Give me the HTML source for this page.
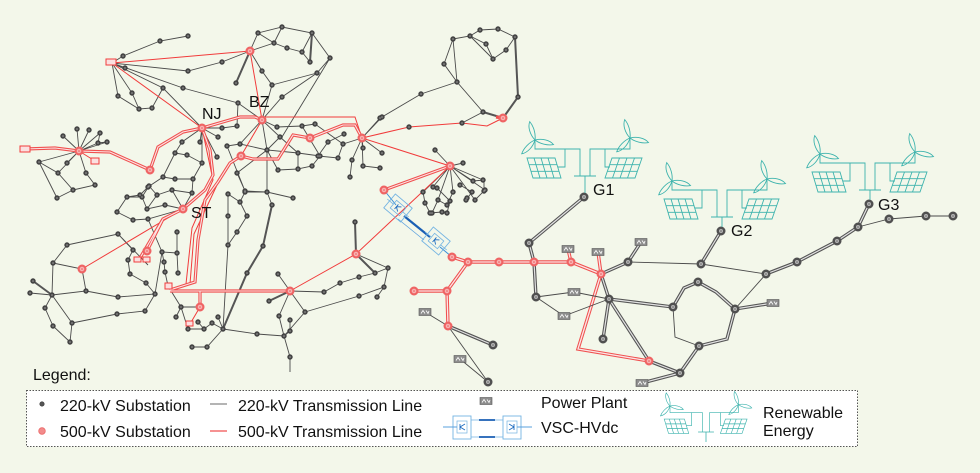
<!DOCTYPE html>
<html><head><meta charset="utf-8"><style>
html,body{margin:0;padding:0;background:#f3f7ea;}
svg{display:block;}
text{font-family:"Liberation Sans",Arial,sans-serif;fill:#111;}
</style></head><body>
<svg width="980" height="473" viewBox="0 0 980 473" xmlns="http://www.w3.org/2000/svg">
<defs>
<g id="blade"><path d="M0,0 C-4,-6 -5,-14 -2,-19 C1,-14 2,-6 0,0 Z"/></g>
<g id="wind">
<use href="#blade" transform="rotate(-10)"/>
<use href="#blade" transform="rotate(110)"/>
<use href="#blade" transform="rotate(230)"/>
</g>
<g id="ren" stroke="#3db3ad" stroke-width="0.9" fill="none">
<path d="M-11,0H11M-5,0V-27H-20V-9H-27M-20,-27H-50V-36M5,0V-27H20V-9H25M20,-27H45V-38"/>
<path d="M-58,-18L-30,-18L-24,2L-52,2Z M-51,-18L-45,2 M-44,-18L-38,2 M-37,-18L-31,2 M-56,-11.3L-28,-11.3 M-54,-4.7L-26,-4.7"/>
<path d="M27,-18L57,-18L50,2L20,2Z M34.5,-18L27.5,2 M42,-18L35,2 M49.5,-18L42.5,2 M24.7,-11.3L54.7,-11.3 M22.3,-4.7L52.3,-4.7"/>
<use href="#wind" transform="translate(-50,-36)"/>
<use href="#wind" transform="translate(45,-38)"/>
</g>
<g id="pp"><rect x="-6" y="-3.5" width="12" height="7" fill="#8d8d8d" stroke="#555" stroke-width="0.6"/><path d="M-4,1.5 L-2,-1.5 L0,1.5 M1,-1.5 L3,1.5 L4,-1" stroke="#fff" stroke-width="0.8" fill="none"/></g>
<g id="conv" fill="none">
<rect x="-11" y="-9" width="22" height="18" stroke="#74b4e2" stroke-width="0.9"/>
<rect x="-6" y="-5" width="12" height="10" stroke="#74b4e2" stroke-width="0.8"/>
<path d="M-14,0H-6M6,0H14" stroke="#74b4e2" stroke-width="0.8"/>
<path d="M-2,-3V3M-2,0L2,-3M-2,0L2,3" stroke="#1e6cc0" stroke-width="0.9"/>
</g>
</defs>

<!-- ============ 220 kV lines left network ============ -->
<g fill="none" stroke="#4a4a4a" stroke-width="0.9">
<path d="M112,63L123,56L160,41L188,36 M112,63L125,68 M112,63L118,96L139,109L152,108L163,88 M112,63L132,93L139,109 M112,63L163,88L202,128 M112,63L183,88L238,103L262,120 M112,63L188,71L222,62L250,51"/>
<path d="M250,51L258,33L282,27L312,33L330,58L317,73L282,97L262,120 M258,33L274,43L287,48L302,52L310,62 M282,27L274,43 M302,52L312,33 M250,51L262,71L272,85L262,120 M250,51L274,43 M238,103L237,126L222,128L202,128 M262,120L277,127L302,126L315,124 M262,120L280,137L298,153L298,169L312,166L320,156L302,126 M262,120L267,150L298,153 M330,58L282,137 M317,73L272,85"/>
<path d="M202,128L182,142L175,153L187,155L202,163L193,179L175,179L163,177L148,187L140,195 M202,128L200,142 M202,128L217,157 M202,128L218,137 M202,128L202,163 M163,177L175,153 M193,179L192,193"/>
<path d="M240,144L227,146L245,191L267,192L267,150L240,144L262,120 M237,173L267,150 M245,191L237,173 M278,170L267,150 M278,170L298,169 M315,124L343,144L362,138 M362,138L380,118 M362,138L352,160L350,177 M362,138L363,166L380,168 M362,138L382,153 M362,138L363,148 M343,144L338,158L318,156L328,142L344,134 M362,138L382,117L421,94L457,82 M298,153L320,156 M280,137L267,150"/>
<path d="M79,151L77,129 M79,151L89,130 M79,151L63,136 M79,151L100,133 M79,151L98,143 M79,151L107,142 M79,151L39,162 M79,151L67,163 M79,151L86,173 M79,151L58,173 M98,143L107,142 M100,133L98,143 M39,162L58,173L73,190L57,198 M39,162L57,198 M86,173L95,185L73,190"/>
<path d="M127,197L142,197L149,186L157,195L172,190L192,193 M127,197L117,212L133,220L148,219L183,209 M142,197L147,209L165,205L183,209 M157,195L147,209 M140,195L127,197 M148,187L149,186 M183,209L192,193 M172,190L183,209"/>
<path d="M67,245L118,234L133,250 M67,245L53,263L52,295L45,308L53,326L70,342L72,323L52,295 M53,263L82,269L86,291L52,295 M30,293L52,295 M86,291L118,297L155,294L162,252 M72,323L117,314L145,311L155,294L146,283 M133,250L128,260L130,274L146,283 M177,232L177,253L178,273 M162,252L164,262L165,272L168,286 M148,219L162,252L177,253 M118,234L148,265"/>
<path d="M168,286L181,307L200,307 M181,307L176,317 M181,307L188,329L204,329L212,323L223,329 M218,317L223,329 M198,322L204,329 M223,329L207,347L192,347"/>
<path d="M228,194L228,245L223,329 M228,194L240,202L245,192L267,192L293,198 M267,192L272,205 M247,216L237,232L228,245 M240,202L247,216 M223,329L257,334L284,336L305,312L290,291 M284,336L279,316L290,291 M290,291L278,274 M290,320L290,331L284,336 M284,336L290,357L290,372 M290,291L324,292L340,283L359,277L375,273L388,268L384,287L377,297 M305,312L359,296L384,287 M388,268L356,254"/>
<path d="M453,39L470,36L480,30L498,29L515,37L506,50L493,59L486,44L470,36 M453,39L444,64L457,82L483,112L503,118 M453,39L457,82 M470,36L493,59 M483,112L462,123"/>
<path d="M450,166L435,150 M450,166L463,163 M450,166L473,181 M450,166L483,180 M450,166L485,190 M450,166L475,200 M450,166L453,192 M450,166L438,200 M450,166L423,192 M450,166L433,187 M423,192L425,203L430,213L442,212 M437,188L450,201L447,213 M460,185L472,192L466,200 M473,181L484,180L484,191L475,200 M453,192L447,205L438,200L432,213"/>
</g>
<g fill="none" stroke="#555" stroke-width="2">
<path d="M312,33L310,62 M236,83L250,51 M33,281L52,295 M272,205L263,246L247,273L223,329 M290,291L269,301 M356,254L355,222 M356,254L375,273 M515,37L518,97L503,118 M483,112L503,118"/>
</g>

<!-- ============ 500 kV lines ============ -->
<g fill="none" stroke="#f13b3b" stroke-width="1">
<path d="M112,63L250,51 M112,63L202,128 M250,51L262,120L241,156 M262,117L355,117L362,138 M362,138L450,166 M362,138L409,127L462,123L487,126L503,118 M183,209L82,269 M290,291L356,254L450,166 M200,307L190,324 M79,151L95,161 M202,128L213,180L192,228L186,284 M217,185L194,234L190,284"/>
</g>
<g fill="none" stroke="#f0504f" stroke-width="3.2">
<path id="rd1" d="M202,128L240,117L255,117L262,120 M241,156L253,159L278,159L293,135L310,138L343,125L355,125L362,138 M202,128L183,132L158,147L150,170 M25,149L55,148L79,151 M79,151L110,152L150,170 M241,156L230,163L218,182L205,200L198,240L195,282L170,290 M183,209L163,219L147,251 M163,219L140,258 M170,291L290,291 M200,291L200,307 M384,190L450,166 M183,209L205,190L213,175L210,150L202,128 M496,117L503,118"/>
</g>
<g fill="none" stroke="#fbe6e6" stroke-width="1.1">
<path d="M202,128L240,117L255,117L262,120 M241,156L253,159L278,159L293,135L310,138L343,125L355,125L362,138 M202,128L183,132L158,147L150,170 M25,149L55,148L79,151 M79,151L110,152L150,170 M241,156L230,163L218,182L205,200L198,240L195,282L170,290 M183,209L163,219L147,251 M163,219L140,258 M170,291L290,291 M200,291L200,307 M384,190L450,166 M183,209L205,190L213,175L210,150L202,128"/>
</g>

<!-- right side red double -->
<g fill="none" stroke="#f0504f" stroke-width="3.4">
<path d="M452,257L468,262L499,262L534,262L571,262L601,274 M414,291L447,291 M447,291L468,262 M447,291L448,326 M601,274L598,252 M601,274L578,349L649,361 M571,262L568,249"/>
</g>
<g fill="none" stroke="#fbe6e6" stroke-width="1.3">
<path d="M452,257L468,262L499,262L534,262L571,262L601,274 M414,291L447,291 M447,291L468,262 M447,291L448,326 M601,274L598,252 M601,274L578,349L649,361 M571,262L568,249"/>
</g>

<!-- right side gray lines -->
<g fill="none" stroke="#555" stroke-width="3.4">
<path d="M584,197L529,243L534,262L536,297 M601,274L609,299 M601,274L628,262L641,242 M701,264L721,231 M766,274L797,262L837,241L858,227L869,204 M609,299L673,307 M609,299L649,361 M609,299L603,339 M673,307L684,288L698,282L716,292L735,309L727,339L699,346 M649,361L680,373L699,346 M680,373L642,383 M448,326L493,345 M735,309L773,303"/>
</g>
<g fill="none" stroke="#e2e2e2" stroke-width="1.2">
<path d="M584,197L529,243L534,262L536,297 M601,274L609,299 M601,274L628,262L641,242 M701,264L721,231 M766,274L797,262L837,241L858,227L869,204 M609,299L673,307 M609,299L649,361 M609,299L603,339 M673,307L684,288L698,282L716,292L735,309L727,339L699,346 M649,361L680,373L699,346 M680,373L642,383 M448,326L493,345 M735,309L773,303"/>
</g>
<g fill="none" stroke="#4a4a4a" stroke-width="0.9">
<path d="M536,297L574,292L609,299 M536,297L564,316L609,299 M628,262L701,264L766,274 M766,274L735,309 M858,227L889,219L926,216L953,216 M673,307L675,337L699,346 M425,312L448,326 M448,326L488,382 M460,359L488,382"/>
</g>

<!-- HVDC -->
<g fill="none">
<path d="M384,190L396,205 M440,247L452,257" stroke="#3a8fd8" stroke-width="1"/>
<path d="M404,216L430,237" stroke="#1a5fb4" stroke-width="2.2"/>
<path d="M398,219L424,240" stroke="#5aa0de" stroke-width="0.8"/>
</g>
<use href="#conv" transform="translate(398,208) rotate(40)"/>
<use href="#conv" transform="translate(436,241) rotate(40)"/>

<!-- small red square terminals -->
<g fill="#fbe0e0" stroke="#f03c3c" stroke-width="1">
<rect x="106" y="59" width="10" height="6"/>
<rect x="20" y="146" width="10" height="6"/>
<rect x="91" y="158" width="8" height="6"/>
<rect x="134" y="257" width="7" height="5"/>
<rect x="143" y="257" width="7" height="5"/>
<rect x="186" y="321" width="7" height="5"/>
<rect x="165" y="283" width="7" height="6"/>
</g>

<!-- small 220kV nodes -->
<path fill="none" stroke="#444" stroke-width="5.4" stroke-linecap="round" d="M188,36h.01M160,41h.01M123,56h.01M125,68h.01M118,96h.01M132,93h.01M139,109h.01M152,108h.01M163,88h.01M183,88h.01M188,71h.01M222,62h.01M258,33h.01M282,27h.01M312,33h.01M274,43h.01M287,48h.01M302,52h.01M310,62h.01M330,58h.01M317,73h.01M262,71h.01M272,85h.01M236,83h.01M282,97h.01M238,103h.01M237,126h.01M222,128h.01M277,127h.01M302,126h.01M315,124h.01M280,137h.01M200,142h.01M182,142h.01M175,153h.01M187,155h.01M202,163h.01M217,157h.01M218,137h.01M193,179h.01M175,179h.01M163,177h.01M148,187h.01M140,195h.01M127,197h.01M192,193h.01M227,146h.01M240,144h.01M267,150h.01M245,191h.01M267,192h.01M237,173h.01M298,153h.01M298,169h.01M312,166h.01M320,156h.01M278,170h.01M343,144h.01M380,118h.01M352,160h.01M363,166h.01M350,177h.01M380,168h.01M338,158h.01M318,156h.01M328,142h.01M344,134h.01M363,148h.01M382,153h.01M409,127h.01M382,117h.01M421,94h.01M77,129h.01M89,130h.01M63,136h.01M100,133h.01M98,143h.01M107,142h.01M39,162h.01M67,163h.01M86,173h.01M58,173h.01M73,190h.01M95,185h.01M57,198h.01M142,197h.01M149,186h.01M157,195h.01M172,190h.01M165,205h.01M147,209h.01M117,212h.01M133,220h.01M148,219h.01M118,234h.01M67,245h.01M53,263h.01M33,281h.01M30,293h.01M52,295h.01M45,308h.01M53,326h.01M70,342h.01M72,323h.01M86,291h.01M118,297h.01M117,314h.01M145,311h.01M155,294h.01M146,283h.01M130,274h.01M128,260h.01M133,250h.01M162,252h.01M177,232h.01M177,253h.01M164,262h.01M165,272h.01M178,273h.01M181,307h.01M176,317h.01M188,329h.01M204,329h.01M212,323h.01M218,317h.01M223,329h.01M198,322h.01M192,347h.01M207,347h.01M228,194h.01M240,202h.01M245,192h.01M293,198h.01M272,205h.01M228,216h.01M247,216h.01M237,232h.01M228,245h.01M263,246h.01M247,273h.01M278,274h.01M269,301h.01M305,312h.01M279,316h.01M290,320h.01M290,331h.01M284,336h.01M257,334h.01M324,292h.01M340,283h.01M359,277h.01M375,273h.01M388,268h.01M384,287h.01M377,297h.01M359,296h.01M355,222h.01M290,357h.01M453,39h.01M470,36h.01M480,30h.01M498,29h.01M515,37h.01M486,44h.01M506,50h.01M493,59h.01M444,64h.01M457,82h.01M483,112h.01M462,123h.01M435,150h.01M463,163h.01M473,181h.01M483,180h.01M485,190h.01M475,200h.01M467,198h.01M453,192h.01M447,205h.01M438,200h.01M432,213h.01M447,213h.01M423,192h.01M433,187h.01M425,203h.01M430,213h.01M442,212h.01M450,201h.01M437,188h.01M460,185h.01M472,192h.01M466,200h.01M484,191h.01M518,97h.01"/>
<path fill="none" stroke="#a0a0a0" stroke-width="1.6" stroke-linecap="round" d="M188,36h.01M160,41h.01M123,56h.01M125,68h.01M118,96h.01M132,93h.01M139,109h.01M152,108h.01M163,88h.01M183,88h.01M188,71h.01M222,62h.01M258,33h.01M282,27h.01M312,33h.01M274,43h.01M287,48h.01M302,52h.01M310,62h.01M330,58h.01M317,73h.01M262,71h.01M272,85h.01M236,83h.01M282,97h.01M238,103h.01M237,126h.01M222,128h.01M277,127h.01M302,126h.01M315,124h.01M280,137h.01M200,142h.01M182,142h.01M175,153h.01M187,155h.01M202,163h.01M217,157h.01M218,137h.01M193,179h.01M175,179h.01M163,177h.01M148,187h.01M140,195h.01M127,197h.01M192,193h.01M227,146h.01M240,144h.01M267,150h.01M245,191h.01M267,192h.01M237,173h.01M298,153h.01M298,169h.01M312,166h.01M320,156h.01M278,170h.01M343,144h.01M380,118h.01M352,160h.01M363,166h.01M350,177h.01M380,168h.01M338,158h.01M318,156h.01M328,142h.01M344,134h.01M363,148h.01M382,153h.01M409,127h.01M382,117h.01M421,94h.01M77,129h.01M89,130h.01M63,136h.01M100,133h.01M98,143h.01M107,142h.01M39,162h.01M67,163h.01M86,173h.01M58,173h.01M73,190h.01M95,185h.01M57,198h.01M142,197h.01M149,186h.01M157,195h.01M172,190h.01M165,205h.01M147,209h.01M117,212h.01M133,220h.01M148,219h.01M118,234h.01M67,245h.01M53,263h.01M33,281h.01M30,293h.01M52,295h.01M45,308h.01M53,326h.01M70,342h.01M72,323h.01M86,291h.01M118,297h.01M117,314h.01M145,311h.01M155,294h.01M146,283h.01M130,274h.01M128,260h.01M133,250h.01M162,252h.01M177,232h.01M177,253h.01M164,262h.01M165,272h.01M178,273h.01M181,307h.01M176,317h.01M188,329h.01M204,329h.01M212,323h.01M218,317h.01M223,329h.01M198,322h.01M192,347h.01M207,347h.01M228,194h.01M240,202h.01M245,192h.01M293,198h.01M272,205h.01M228,216h.01M247,216h.01M237,232h.01M228,245h.01M263,246h.01M247,273h.01M278,274h.01M269,301h.01M305,312h.01M279,316h.01M290,320h.01M290,331h.01M284,336h.01M257,334h.01M324,292h.01M340,283h.01M359,277h.01M375,273h.01M388,268h.01M384,287h.01M377,297h.01M359,296h.01M355,222h.01M290,357h.01M453,39h.01M470,36h.01M480,30h.01M498,29h.01M515,37h.01M486,44h.01M506,50h.01M493,59h.01M444,64h.01M457,82h.01M483,112h.01M462,123h.01M435,150h.01M463,163h.01M473,181h.01M483,180h.01M485,190h.01M475,200h.01M467,198h.01M453,192h.01M447,205h.01M438,200h.01M432,213h.01M447,213h.01M423,192h.01M433,187h.01M425,203h.01M430,213h.01M442,212h.01M450,201h.01M437,188h.01M460,185h.01M472,192h.01M466,200h.01M484,191h.01M518,97h.01"/>

<!-- big gray nodes (right) -->
<path fill="none" stroke="#505050" stroke-width="9" stroke-linecap="round" d="M584,197h.01M529,243h.01M536,297h.01M609,299h.01M603,339h.01M628,262h.01M701,264h.01M721,231h.01M766,274h.01M797,262h.01M837,241h.01M858,227h.01M869,204h.01M889,219h.01M926,216h.01M953,216h.01M673,307h.01M698,282h.01M735,309h.01M699,346h.01M680,373h.01M493,345h.01M488,382h.01"/>
<path fill="none" stroke="#b4b4b4" stroke-width="4" stroke-linecap="round" d="M584,197h.01M529,243h.01M536,297h.01M609,299h.01M603,339h.01M628,262h.01M701,264h.01M721,231h.01M766,274h.01M797,262h.01M837,241h.01M858,227h.01M869,204h.01M889,219h.01M926,216h.01M953,216h.01M673,307h.01M698,282h.01M735,309h.01M699,346h.01M680,373h.01M493,345h.01M488,382h.01"/>
<path fill="none" stroke="#6a6a6a" stroke-width="1.6" stroke-linecap="round" d="M584,197h.01M529,243h.01M536,297h.01M609,299h.01M603,339h.01M628,262h.01M701,264h.01M721,231h.01M766,274h.01M797,262h.01M837,241h.01M858,227h.01M869,204h.01M889,219h.01M926,216h.01M953,216h.01M673,307h.01M698,282h.01M735,309h.01M699,346h.01M680,373h.01M493,345h.01M488,382h.01"/>

<!-- red 500kV nodes -->
<path fill="none" stroke="#ef6464" stroke-width="9" stroke-linecap="round" d="M250,51h.01M262,120h.01M202,128h.01M310,138h.01M362,138h.01M241,156h.01M150,170h.01M79,151h.01M503,118h.01M450,166h.01M384,190h.01M183,209h.01M82,269h.01M147,251h.01M200,307h.01M290,291h.01M356,254h.01M452,257h.01M468,262h.01M499,262h.01M534,262h.01M571,262h.01M601,274h.01M447,291h.01M414,291h.01M448,326h.01M649,361h.01"/>
<path fill="none" stroke="#f7b4b4" stroke-width="4.6" stroke-linecap="round" d="M250,51h.01M262,120h.01M202,128h.01M310,138h.01M362,138h.01M241,156h.01M150,170h.01M79,151h.01M503,118h.01M450,166h.01M384,190h.01M183,209h.01M82,269h.01M147,251h.01M200,307h.01M290,291h.01M356,254h.01M452,257h.01M468,262h.01M499,262h.01M534,262h.01M571,262h.01M601,274h.01M447,291h.01M414,291h.01M448,326h.01M649,361h.01"/>
<path fill="none" stroke="#ec5a5a" stroke-width="1.6" stroke-linecap="round" d="M250,51h.01M262,120h.01M202,128h.01M310,138h.01M362,138h.01M241,156h.01M150,170h.01M79,151h.01M503,118h.01M450,166h.01M384,190h.01M183,209h.01M82,269h.01M147,251h.01M200,307h.01M290,291h.01M356,254h.01M452,257h.01M468,262h.01M499,262h.01M534,262h.01M571,262h.01M601,274h.01M447,291h.01M414,291h.01M448,326h.01M649,361h.01"/>

<!-- power plants -->
<use href="#pp" transform="translate(568,249)"/>
<use href="#pp" transform="translate(598,252)"/>
<use href="#pp" transform="translate(641,242)"/>
<use href="#pp" transform="translate(574,292)"/>
<use href="#pp" transform="translate(564,316)"/>
<use href="#pp" transform="translate(425,312)"/>
<use href="#pp" transform="translate(460,359)"/>
<use href="#pp" transform="translate(773,303)"/>
<use href="#pp" transform="translate(642,383)"/>

<!-- renewable groups -->
<use href="#ren" transform="translate(585,176)"/>
<use href="#ren" transform="translate(722,217)"/>
<use href="#ren" transform="translate(870,190)"/>
<path d="M585,176V193M722,217V227M870,190V200" stroke="#3db3ad" stroke-width="0.9" fill="none"/>

<!-- labels -->
<g font-size="16">
<text x="202" y="119">NJ</text>
<text x="249" y="107">BZ</text>
<text x="191" y="218">ST</text>
<text x="593" y="195">G1</text>
<text x="731" y="236">G2</text>
<text x="878" y="210">G3</text>
</g>

<!-- legend -->
<text x="33" y="380" font-size="16">Legend:</text>
<rect x="26.5" y="390.5" width="831" height="56" fill="#fff" stroke="#555" stroke-width="1" stroke-dasharray="1.5,1.5"/>
<circle cx="42" cy="404" r="2.2" fill="#555" stroke="#333" stroke-width="0.6"/>
<circle cx="42" cy="431" r="3.3" fill="#f28b8b" stroke="#ec6a6a" stroke-width="0.8"/>
<path d="M210,404H227" stroke="#888" stroke-width="1.2"/>
<path d="M210,431H227" stroke="#f05050" stroke-width="1.2"/>
<g font-size="16">
<text x="60" y="411">220-kV Substation</text>
<text x="60" y="437">500-kV Substation</text>
<text x="238" y="411">220-kV Transmission Line</text>
<text x="238" y="437">500-kV Transmission Line</text>
<text x="541" y="408">Power Plant</text>
<text x="541" y="433">VSC-HVdc</text>
<text x="763" y="418">Renewable</text>
<text x="763" y="436">Energy</text>
</g>
<use href="#pp" transform="translate(486,401)"/>
<g fill="none">
<rect x="453" y="416" width="18" height="23" stroke="#74b4e2" stroke-width="0.9"/>
<rect x="503" y="416" width="18" height="23" stroke="#74b4e2" stroke-width="0.9"/>
<rect x="457" y="421" width="10" height="12" stroke="#74b4e2" stroke-width="0.7"/>
<rect x="507" y="421" width="10" height="12" stroke="#74b4e2" stroke-width="0.7"/>
<path d="M443,427H457M517,427H532" stroke="#5aa0de" stroke-width="0.9"/>
<path d="M479,420H495M479,437H495" stroke="#1a5fb4" stroke-width="1.8"/>
<path d="M471,420H479M495,420H503M471,437H479M495,437H503" stroke="#74b4e2" stroke-width="0.8"/>
<path d="M460,424V430M460,427L465,424M460,427L465,430M514,424V430M514,427L509,424M514,427L509,430" stroke="#1e6cc0" stroke-width="0.9"/>
</g>
<use href="#ren" transform="translate(706,432) scale(0.72)"/>
<path d="M706,432V442" stroke="#3db3ad" stroke-width="0.8"/>
</svg>
</body></html>
